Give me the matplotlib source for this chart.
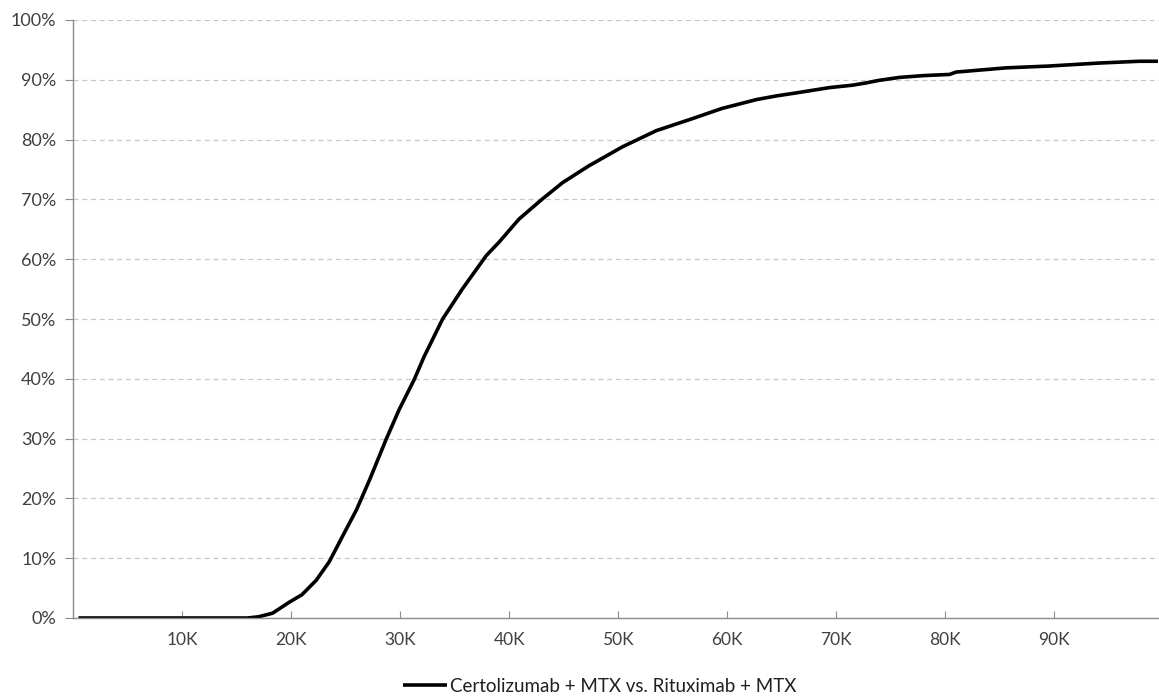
import matplotlib.pyplot as plt
from matplotlib.ticker import FuncFormatter

plt.rcParams['font.family'] = ['Lato', 'DejaVu Sans']

# cost threshold (thousands) and probability cost-effective (%)
wtp_k = [0.5, 16.0, 17.0, 18.3, 19.8, 21.0, 22.3, 23.5, 24.7, 26.0, 27.2,
         28.7, 29.9, 31.3, 32.2, 33.9, 35.7, 37.9, 39.1, 40.9, 43.0, 44.9,
         47.3, 50.4, 53.5, 56.8, 59.5, 62.7, 64.5, 66.3, 69.4, 71.5, 72.8,
         73.9, 75.8, 78.0, 80.4, 81.0, 81.7, 85.6, 89.5, 94.1, 97.8, 99.5]
prob_pct = [0, 0, 0.2, 0.8, 2.6, 3.9, 6.3, 9.4, 13.6, 18.1, 23.1,
            29.8, 34.8, 39.9, 43.7, 50.0, 55.0, 60.6, 62.9, 66.7, 70.0, 72.8,
            75.6, 78.8, 81.5, 83.5, 85.2, 86.7, 87.3, 87.8, 88.7, 89.1, 89.5,
            89.9, 90.4, 90.7, 90.9, 91.3, 91.4, 92.0, 92.3, 92.8, 93.1, 93.1]
series_name = 'Certolizumab + MTX vs. Rituximab + MTX'
xticks = [10, 20, 30, 40, 50, 60, 70, 80, 90]
yticks = list(range(0, 101, 10))

txt = '#404040'
axcol = '#8c8c8c'

fig = plt.figure(figsize=(11.59, 6.98), dpi=100)
ax = fig.add_axes([73 / 1159, 80 / 698, 1 - 73 / 1159, 598 / 698])

ax.plot(wtp_k, prob_pct, color='black', lw=2.6, label=series_name,
        solid_capstyle='butt', solid_joinstyle='round')

ax.set_xlim(0, 99.6)
ax.set_ylim(0, 100)
ax.set_xticks(xticks)
ax.set_yticks(yticks)
ax.xaxis.set_major_formatter(FuncFormatter(lambda v, p: '%dK' % v))
ax.yaxis.set_major_formatter(FuncFormatter(lambda v, p: '%d%%' % v))

ax.grid(axis='y', linestyle=(0, (4, 3)), color='#c8c8c8', lw=0.9)
ax.set_axisbelow(True)
for s in ['top', 'right']:
    ax.spines[s].set_visible(False)
for s in ['left', 'bottom']:
    ax.spines[s].set_color(axcol)
    ax.spines[s].set_linewidth(1)

ax.tick_params(axis='x', direction='in', length=5, color=axcol,
               labelsize=12.5, labelcolor=txt, pad=10)
ax.tick_params(axis='y', direction='out', length=6, color=axcol,
               labelsize=13, labelcolor=txt, pad=6)

leg = fig.legend(loc='center', bbox_to_anchor=(600 / 1159, 1 - 686 / 698),
                 frameon=False, fontsize=13.5, handlelength=2.3,
                 handletextpad=0.2)
for t in leg.get_texts():
    t.set_color('#202020')

fig.savefig('out.png', dpi=100)
